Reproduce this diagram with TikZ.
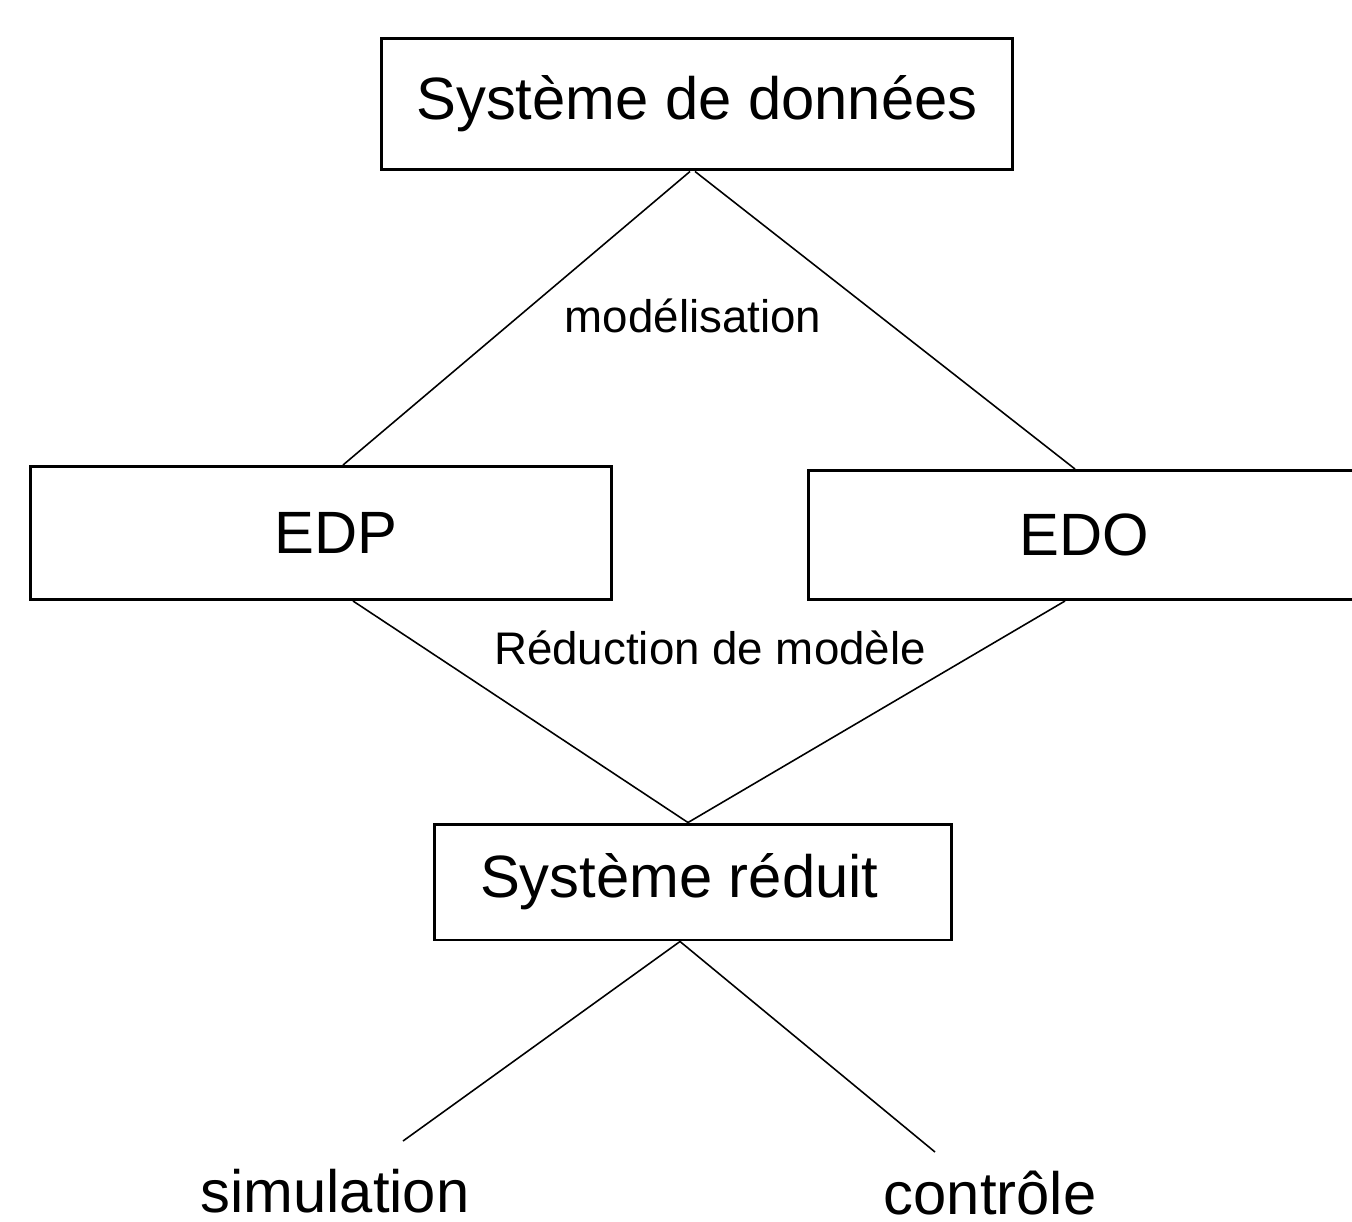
\documentclass[tikz,border=0pt]{standalone}
\usepackage{fontspec}
\setmainfont{Liberation Sans}
\usetikzlibrary{positioning}

\begin{document}
\begin{tikzpicture}[
  x=0.02cm, y=-0.02cm,
  bloc/.style={draw, line width=1.7pt, fill=white, inner sep=0pt,
               font=\fontsize{34}{40}\selectfont},
  lien/.style={line width=0.9pt},
  etiq/.style={font=\fontsize{26}{30}\selectfont, inner sep=1pt},
  sortie/.style={font=\fontsize{34}{40}\selectfont, inner sep=0pt, anchor=base},
]
\useasboundingbox (0,0) rectangle (1352,1221);

\node[bloc, minimum width=12.64cm, minimum height=2.64cm] (donnees) at (697,104) {Système de données};
\node[bloc, minimum width=11.64cm, minimum height=2.66cm] (edp) at (321,533) {\hspace*{0.6cm}EDP};
\node[bloc, minimum width=11.04cm, minimum height=2.58cm] (edo) at (1084,535) {EDO};
\node[bloc, minimum width=10.36cm, minimum height=2.32cm] (reduit) at (693,882) {Système réduit\hspace*{0.55cm}};

\node[sortie] (simu) at (335,1212) {simulation};
\node[sortie] (ctrl) at (990,1214) {contrôle};
\coordinate (simufin) at (403,1141);
\coordinate (ctrlfin) at (935,1152);

% modelisation
\draw[lien] ([xshift=-0.14cm]donnees.south) -- ([xshift=0.44cm]edp.north);
\draw[lien] ([xshift=-0.04cm]donnees.south) -- ([xshift=-0.18cm]edo.north);
\node[etiq] (modl) at (693,316) {modélisation};

% reduction
\draw[lien] ([xshift=0.64cm]edp.south) -- ([xshift=-0.1cm]reduit.north);
\draw[lien] ([xshift=-0.38cm]edo.south) -- ([xshift=-0.1cm]reduit.north);
\node[etiq] (redu) at (710,648) {Réduction de modèle};

% usages
\draw[lien] ([xshift=-0.26cm]reduit.south) -- (simufin);
\draw[lien] ([xshift=-0.26cm]reduit.south) -- (ctrlfin);
\end{tikzpicture}
\end{document}
